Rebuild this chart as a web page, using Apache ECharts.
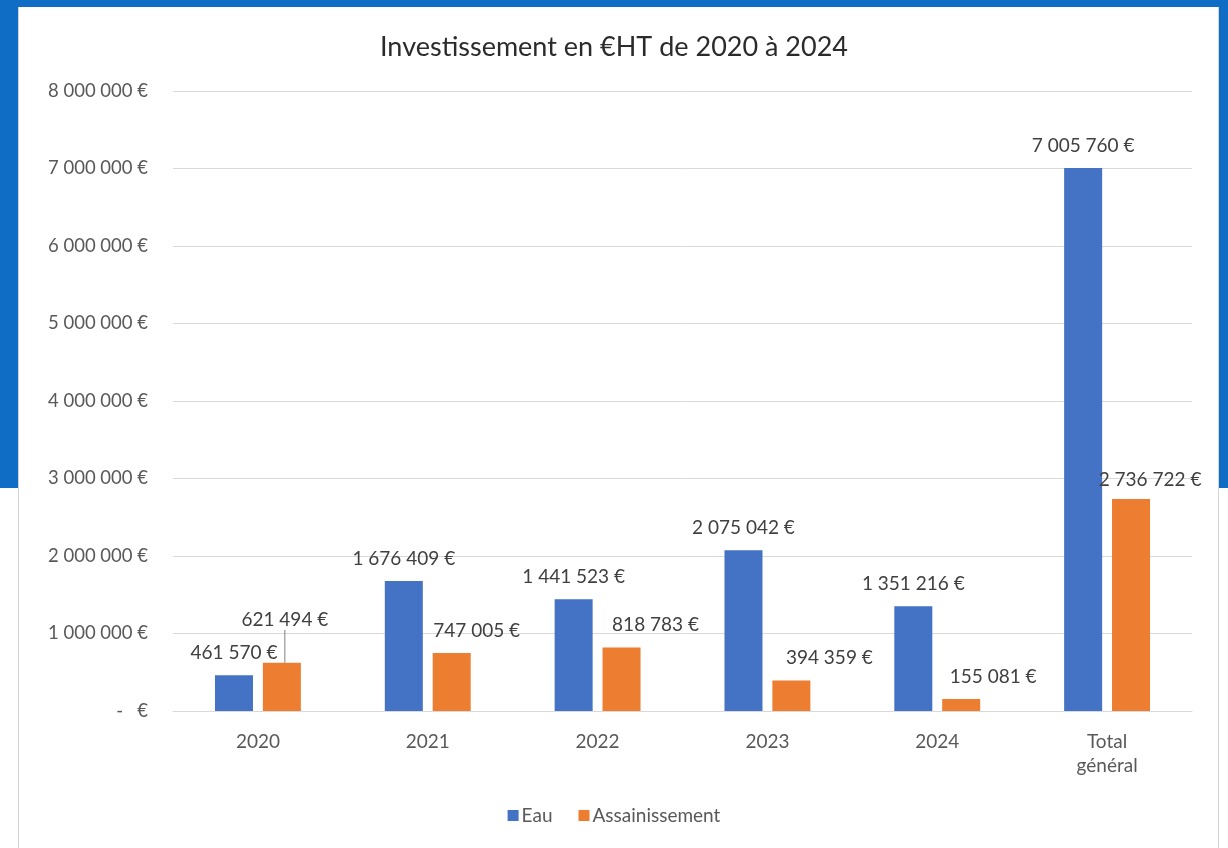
<!DOCTYPE html>
<html>
<head>
<meta charset="utf-8">
<script src="https://cdn.jsdelivr.net/npm/echarts@6/dist/echarts.min.js"></script>
<style>
  html, body { margin: 0; padding: 0; width: 1228px; height: 848px; overflow: hidden; background: #fff; }
  #frame { position: absolute; left: 0; top: 0; width: 1228px; height: 488px; background: #0f6dc5; }
  #panel { position: absolute; left: 18px; top: 7px; width: 1199px; height: 841px; background: #fff;
           border-left: 1px solid #d4d4d4; border-right: 1px solid #d4d4d4; }
  #chart { position: absolute; left: 0; top: 0; width: 1228px; height: 848px; }
</style>
</head>
<body>
<div id="frame"></div>
<div id="panel"></div>
<div id="chart"></div>
<script>
// données
const categories = ['2020', '2021', '2022', '2023', '2024', 'Total\ngénéral'];
const eau = [461570, 1676409, 1441523, 2075042, 1351216, 7005760];
const assainissement = [621494, 747005, 818783, 394359, 155081, 2736722];
const yTicks = [0, 1000000, 2000000, 3000000, 4000000, 5000000, 6000000, 7000000, 8000000];

// décalages des étiquettes déplacées à la main dans l'original
const assainLabelDx = [3, 25, 34, 38, 32, 19];
const assainLabelDy = [-20, 0, 0, 0, 0, 3];

const FONT = 'Lato';

function euro(v) {
  if (v === 0) return '-   €';
  return String(Math.round(v)).replace(/\B(?=(\d{3})+(?!\d))/g, ' ') + ' €';
}

let myChart = echarts.init(document.getElementById('chart'), null, { renderer: 'canvas' });
let option = {
  backgroundColor: 'transparent',
  textStyle: { fontFamily: FONT },
  title: {
    text: 'Investissement en €HT de 2020 à 2024',
    left: 'center',
    top: 29,
    textStyle: { fontFamily: FONT, fontSize: 27, fontWeight: 'normal', color: '#2b2b2b' }
  },
  legend: {
    data: ['Eau', 'Assainissement'],
    bottom: 18,
    left: 'center',
    icon: 'rect',
    itemWidth: 11,
    itemHeight: 11,
    itemGap: 26,
    textStyle: { fontFamily: FONT, fontSize: 19, color: '#595959', padding: [0, 0, 0, -2] }
  },
  grid: { left: 173, right: 36, top: 91, bottom: 137, containLabel: false },
  xAxis: {
    type: 'category',
    data: categories,
    axisTick: { show: false },
    axisLine: { lineStyle: { color: '#d9d9d9', width: 1 } },
    axisLabel: { color: '#595959', fontFamily: FONT, fontSize: 19, margin: 19, lineHeight: 24 }
  },
  yAxis: {
    type: 'value',
    min: yTicks[0],
    max: yTicks[yTicks.length - 1],
    interval: yTicks[1] - yTicks[0],
    axisLine: { show: false },
    axisTick: { show: false },
    splitLine: { lineStyle: { color: '#d9d9d9', width: 1 } },
    axisLabel: { color: '#595959', fontFamily: FONT, fontSize: 18.5, margin: 25, formatter: euro }
  },
  series: [
    {
      name: 'Eau',
      type: 'bar',
      data: eau,
      barWidth: 38,
      barGap: '26%',
      itemStyle: { color: '#4472c4' },
      label: {
        show: true, position: 'top', distance: 13,
        color: '#404040', fontFamily: FONT, fontSize: 19,
        formatter: p => euro(p.value)
      }
    },
    {
      name: 'Assainissement',
      type: 'bar',
      data: assainissement.map((v, i) => i === 0
        ? { value: v, labelLine: { show: true, lineStyle: { color: '#7f7f7f', width: 1 } } }
        : v),
      barWidth: 38,
      barGap: '26%',
      itemStyle: { color: '#ed7d31' },
      label: {
        show: true, position: 'top', distance: 13,
        color: '#404040', fontFamily: FONT, fontSize: 19,
        formatter: p => euro(p.value)
      },
      labelLine: { show: false },
      labelLayout: p => ({ dx: assainLabelDx[p.dataIndex], dy: assainLabelDy[p.dataIndex] })
    }
  ]
};
myChart.setOption(option);
</script>
</body>
</html>
